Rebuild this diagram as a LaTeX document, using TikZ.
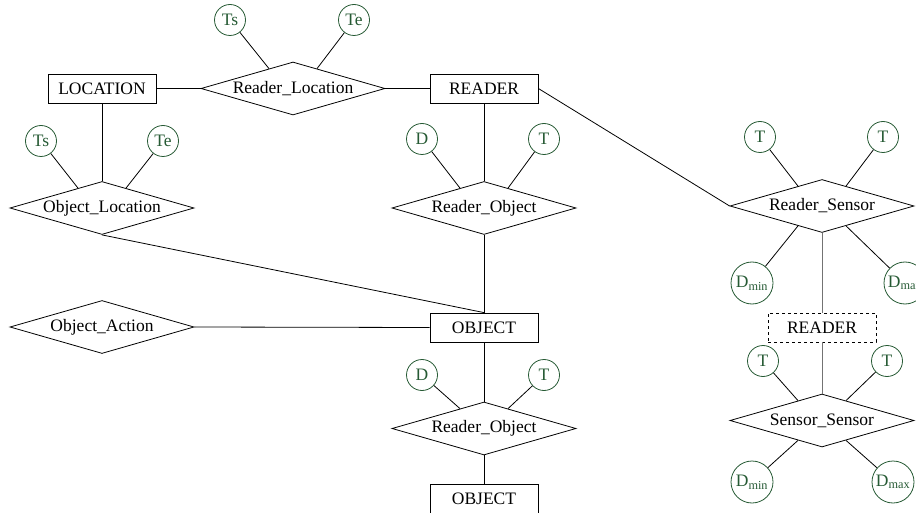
\documentclass[tikz,border=0pt]{standalone}
\usepackage{fontspec}
\setmainfont{Liberation Serif}
\usetikzlibrary{shapes.geometric,calc}
\definecolor{attrgreen}{RGB}{38,90,52}
\begin{document}
\begin{tikzpicture}[x=1pt,y=-1pt,
  every node/.style={font=\fontsize{17.5}{20}\selectfont},
  ent/.style={draw,line width=0.8pt,rectangle,minimum width=108pt,minimum height=29pt,inner sep=0pt},
  went/.style={ent,dashed},
  rel/.style={draw,line width=0.8pt,diamond,aspect=3.47,minimum width=184pt,minimum height=53pt,inner sep=0pt,label={center:#1}},
  att/.style={draw=attrgreen,text=attrgreen,circle,line width=0.8pt,minimum size=31pt,inner sep=0pt},
  batt/.style={att,minimum size=42pt},
  ln/.style={line width=0.8pt},
  gln/.style={line width=0.9pt,black!55}]
\clip (0,0) rectangle (916,513);
\useasboundingbox (0,0) rectangle (916,513);

% entities
\node[ent] (loc) at (102,88.5) {LOCATION};
\node[ent] (reader) at (484,88.5) {READER};
\node[ent] (obj) at (484,327.5) {OBJECT};
\node[ent] (obj2) at (484,498.5) {OBJECT};
\node[went] (reader2) at (822,327.5) {READER};

% relationships
\node[rel={Reader\_Location}] (rl) at (293,88.5) {};
\node[rel={Object\_Location}] (ol) at (102,208) {};
\node[rel={Reader\_Object}] (rou) at (484,208) {};
\node[rel={Object\_Action}] (oa) at (102,327) {};
\node[rel={Reader\_Object}] (rol) at (484,428.5) {};
\node[rel={Reader\_Sensor}] (rs) at (822,206) {};
\node[rel={Sensor\_Sensor}] (ss) at (822,420.5) {};

% attributes
\node[att] (rlts) at (230,20) {Ts};
\node[att] (rlte) at (354,20) {Te};
\node[att] (olts) at (41,141) {Ts};
\node[att] (olte) at (163,141) {Te};
\node[att] (roud) at (422,139) {D};
\node[att] (rout) at (544,139) {T};
\node[att] (rold) at (422,375) {D};
\node[att] (rolt) at (544,375) {T};
\node[att] (rsta) at (760,137) {T};
\node[att] (rstb) at (883,137) {T};
\node[batt] (rsmin) at (752,283) {D\textsubscript{min}};
\node[batt] (rsmax) at (905,283) {D\textsubscript{max}};
\node[att] (ssta) at (763,361) {T};
\node[att] (sstb) at (887,361) {T};
\node[batt] (ssmin) at (752,482) {D\textsubscript{min}};
\node[batt] (ssmax) at (893,482) {D\textsubscript{max}};

% connectors
\draw[ln] (loc.east) -- (rl.west);
\draw[ln] (rl.east) -- (reader.west);
\draw[ln] (loc.south) -- (ol.north);
\draw[ln] (ol.south) -- (obj.north);
\draw[ln] (reader.south) -- (rou.north);
\draw[ln] (rou.south) -- (obj.north);
\draw[ln] (oa.east) -- (obj.west);
\draw[ln] (obj.south) -- (rol.north);
\draw[ln] (rol.south) -- (obj2.north);
\draw[ln] (reader.east) -- (rs.west);
\draw[gln] (rs.south) -- (reader2.north);
\draw[gln] (reader2.south) -- (ss.north);

% attribute connectors
\foreach \r/\a/\b in {rl/rlts/rlte, ol/olts/olte, rou/roud/rout, rol/rold/rolt, rs/rsta/rstb, ss/ssta/sstb}{
  \draw[ln] (\a) -- ($(\r.west)!0.74!(\r.north)$);
  \draw[ln] (\b) -- ($(\r.east)!0.74!(\r.north)$);
}
\draw[ln] (rsmin) -- ($(rs.west)!0.74!(rs.south)$);
\draw[ln] (rsmax) -- ($(rs.east)!0.74!(rs.south)$);
\draw[ln] (ssmin) -- ($(ss.west)!0.74!(ss.south)$);
\draw[ln] (ssmax) -- ($(ss.east)!0.74!(ss.south)$);
\end{tikzpicture}
\end{document}
